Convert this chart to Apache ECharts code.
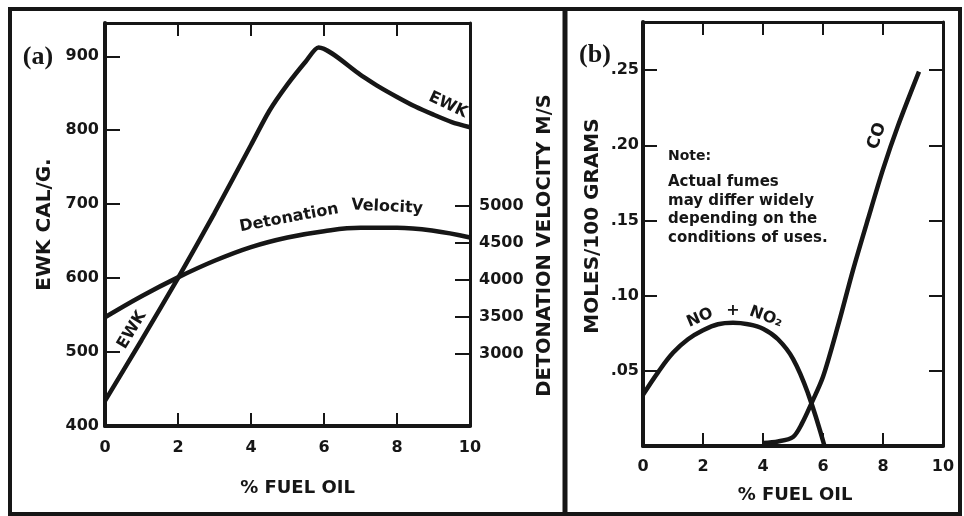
<!DOCTYPE html>
<html>
<head>
<meta charset="utf-8">
<script src="https://cdn.jsdelivr.net/npm/echarts@6/dist/echarts.min.js"></script>
<style>
  html, body { margin: 0; padding: 0; background: #fff; }
  #chart { width: 964px; height: 516px; }
</style>
</head>
<body>
<div id="chart"></div>
<script>
// panel (a): EWK and detonation velocity vs % fuel oil
const ewkFuel = [0, 1, 2, 3, 4, 4.5, 5, 5.5, 5.85, 7, 7.5, 8, 8.5, 9, 9.5, 10]
const ewkValues = [434, 516, 600, 688, 780, 826, 862, 893, 912, 875, 859, 845, 832, 821, 811, 804]
const velFuel = [0, 1, 2, 3, 4, 5, 6, 7, 8, 9, 10]
const velValues = [3490, 3775, 4030, 4255, 4440, 4570, 4655, 4700, 4700, 4660, 4570]

// panel (b): fumes
const noxFuel = [0, 0.5, 1, 1.5, 2, 2.5, 3, 3.5, 4, 4.5, 5, 5.5, 6.05]
const noxValues = [0.034, 0.049, 0.062, 0.071, 0.077, 0.081, 0.082, 0.081, 0.078, 0.071, 0.058, 0.035, 0]
const coFuel = [4, 4.5, 5, 5.3, 5.63, 6, 6.5, 7, 7.5, 8, 8.5, 9.2]
const coValues = [0.002, 0.003, 0.006, 0.015, 0.029, 0.046, 0.08, 0.117, 0.151, 0.184, 0.213, 0.249]

// tick labels
const fuelTicks = [0, 2, 4, 6, 8, 10]
const ewkTicks = [400, 500, 600, 700, 800, 900]
const velTicks = [3000, 3500, 4000, 4500, 5000]
const molesTicks = [0, 0.05, 0.1, 0.15, 0.2, 0.25]

const INK = "#161616"
const FONT = "DejaVu Sans"

const pairs = (xs, ys) => xs.map((x, i) => [x, ys[i]])

const tickLabel = { color: INK, fontFamily: FONT, fontWeight: "bold", fontSize: 16 }
const axisName = { color: INK, fontFamily: FONT, fontWeight: "bold", fontSize: 18 }

const xBottom = (gridIndex, margin) => ({
  gridIndex,
  type: "value",
  min: 0,
  max: 10,
  position: "bottom",
  axisLine: { show: true, onZero: false, lineStyle: { color: INK, width: 4 } },
  axisTick: { show: true, inside: true, length: 13, customValues: fuelTicks, lineStyle: { color: INK, width: 2 } },
  axisLabel: { ...tickLabel, margin, customValues: fuelTicks },
  splitLine: { show: false },
  name: "% FUEL OIL",
  nameLocation: "middle"
})

const xTop = (gridIndex) => ({
  gridIndex,
  type: "value",
  min: 0,
  max: 10,
  position: "top",
  axisLine: { show: true, onZero: false, lineStyle: { color: INK, width: 3 } },
  axisTick: { show: true, inside: true, length: 13, customValues: fuelTicks, lineStyle: { color: INK, width: 2 } },
  axisLabel: { show: false },
  splitLine: { show: false }
})

const lineSeries = (xAxisIndex, yAxisIndex, data, smooth) => ({
  type: "line",
  xAxisIndex,
  yAxisIndex,
  data,
  smooth,
  showSymbol: false,
  symbol: "none",
  lineStyle: { color: INK, width: 4.5 },
  silent: true
})

const label = (text, x, y, rotation, size) => ({
  type: "text",
  x, y, rotation,
  style: {
    text,
    fill: INK,
    font: "bold " + (size || 16) + "px \"" + FONT + "\"",
    align: "center",
    verticalAlign: "middle",
    textAlign: "center",
    textVerticalAlign: "middle"
  }
})

const chart = echarts.init(document.getElementById("chart"))

const option = {
  animation: false,
  backgroundColor: "#fff",
  grid: [
    { left: 105, top: 23, width: 365, height: 403 },
    { left: 643, top: 22, width: 300, height: 424 }
  ],
  xAxis: [
    { ...xBottom(0, 14), nameGap: 53, nameTextStyle: { ...axisName, padding: [0, 0, 0, 20] } },
    xTop(0),
    { ...xBottom(1, 13), nameGap: 40, nameTextStyle: { ...axisName, padding: [0, 0, 0, 4] } },
    xTop(1)
  ],
  yAxis: [
    {
      gridIndex: 0,
      type: "value",
      min: 400,
      max: 945,
      axisLine: { show: true, onZero: false, lineStyle: { color: INK, width: 4 } },
      axisTick: { show: true, inside: true, length: 15, customValues: ewkTicks, lineStyle: { color: INK, width: 2 } },
      axisLabel: { ...tickLabel, margin: 6, customValues: ewkTicks },
      splitLine: { show: false },
      name: "EWK CAL/G.",
      nameLocation: "middle",
      nameRotate: 90,
      nameGap: 50,
      nameTextStyle: { ...axisName, fontSize: 20 }
    },
    {
      gridIndex: 0,
      type: "value",
      position: "right",
      min: 2020,
      max: 7470,
      axisLine: { show: true, onZero: false, lineStyle: { color: INK, width: 3 } },
      axisTick: { show: true, inside: true, length: 15, customValues: velTicks, lineStyle: { color: INK, width: 2 } },
      axisLabel: { ...tickLabel, margin: 9, customValues: velTicks, formatter: (v) => String(v) },
      splitLine: { show: false },
      name: "DETONATION VELOCITY M/S",
      nameLocation: "middle",
      nameRotate: 90,
      nameGap: 65,
      nameTextStyle: { ...axisName, fontSize: 19.5, padding: [0, 42, 0, 0] }
    },
    {
      gridIndex: 1,
      type: "value",
      min: 0,
      max: 0.282,
      axisLine: { show: true, onZero: false, lineStyle: { color: INK, width: 4 } },
      axisTick: { show: true, inside: true, length: 14, customValues: molesTicks, lineStyle: { color: INK, width: 2 } },
      axisLabel: {
        ...tickLabel,
        margin: 4,
        customValues: molesTicks.slice(1),
        formatter: (v) => (Math.round(v * 100) / 100).toFixed(2).replace(/^0/, "")
      },
      splitLine: { show: false },
      name: "MOLES/100 GRAMS",
      nameLocation: "middle",
      nameRotate: 90,
      nameGap: 40,
      nameTextStyle: { ...axisName, fontSize: 20, padding: [0, 0, 0, 16] }
    },
    {
      gridIndex: 1,
      type: "value",
      position: "right",
      min: 0,
      max: 0.282,
      axisLine: { show: true, onZero: false, lineStyle: { color: INK, width: 3 } },
      axisTick: { show: true, inside: true, length: 14, customValues: molesTicks, lineStyle: { color: INK, width: 2 } },
      axisLabel: { show: false },
      splitLine: { show: false }
    }
  ],
  series: [
    lineSeries(0, 0, pairs(ewkFuel, ewkValues), 0.25),
    lineSeries(0, 1, pairs(velFuel, velValues), 0.4),
    lineSeries(2, 2, pairs(noxFuel, noxValues), 0.4),
    lineSeries(2, 2, pairs(coFuel, coValues), 0.3)
  ],
  graphic: [
    // outer frame and divider
    { type: "rect", shape: { x: 10, y: 9, width: 950, height: 505 }, style: { fill: "none", stroke: INK, lineWidth: 4 }, silent: true },
    { type: "line", shape: { x1: 565, y1: 9, x2: 565, y2: 514 }, style: { stroke: INK, lineWidth: 5 }, silent: true },
    // panel tags
    {
      type: "text", x: 38, y: 57,
      style: { text: "(a)", fill: INK, font: "bold 26px \"Liberation Serif\"", align: "center", verticalAlign: "middle", textAlign: "center", textVerticalAlign: "middle" }
    },
    {
      type: "text", x: 595, y: 55,
      style: { text: "(b)", fill: INK, font: "bold 26px \"Liberation Serif\"", align: "center", verticalAlign: "middle", textAlign: "center", textVerticalAlign: "middle" }
    },
    // curve labels
    label("EWK", 448, 105, -0.44),
    label("EWK", 132, 330, 1.03),
    label("Detonation", 289, 218, 0.185),
    label("Velocity", 387, 207, -0.05),
    label("NO", 700, 318, 0.4),
    label("+", 733, 311, 0),
    label("NO\u2082", 766, 317, -0.35),
    label("CO", 877, 136, 1.25, 17),
    // note
    {
      type: "text", x: 668, y: 156,
      style: { text: "Note:", fill: INK, font: "bold 14px \"" + FONT + "\"", align: "left", verticalAlign: "middle", textAlign: "left", textVerticalAlign: "middle" }
    },
    {
      type: "text", x: 668, y: 173,
      style: {
        text: "Actual fumes\nmay differ widely\ndepending on the\nconditions of uses.",
        fill: INK, font: "bold 15px \"" + FONT + "\"", lineHeight: 18.5,
        align: "left", verticalAlign: "top", textAlign: "left", textVerticalAlign: "top"
      }
    }
  ]
}

chart.setOption(option)
</script>
</body>
</html>
